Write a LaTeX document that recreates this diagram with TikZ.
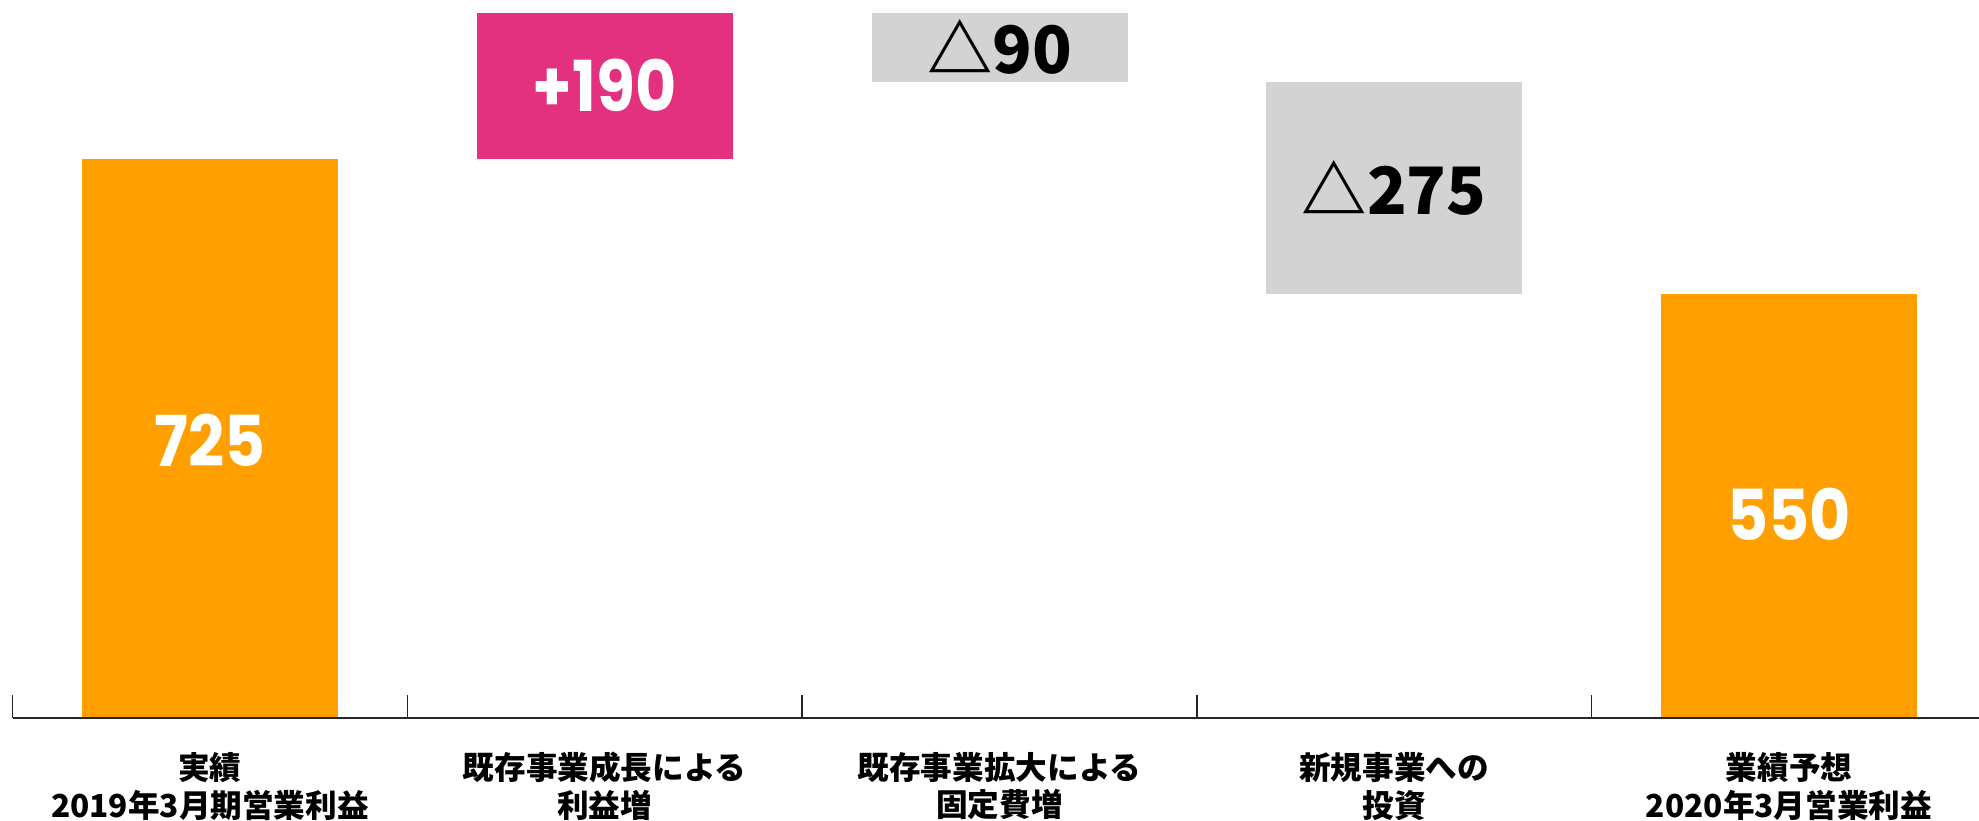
\documentclass[tikz,border=0pt]{standalone}
\usepackage{fontspec}
\usepackage{tikz}
\usetikzlibrary{positioning}
\newfontfamily\numfont[FakeStretch=0.9]{Poppins}
\newfontfamily\cjk{Noto Sans CJK JP}
\definecolor{barorange}{RGB}{255,159,0}
\definecolor{uppink}{RGB}{227,48,127}
\definecolor{downgray}{RGB}{211,211,211}
\tikzset{
	valuewhite/.style={text=white, font=\numfont\bfseries\fontsize{20}{24}\selectfont},
	valueblack/.style={text=black, font=\cjk\bfseries\fontsize{18.6}{22}\selectfont},
	catlabel/.style={align=center, font=\cjk\bfseries\fontsize{9}{10.8}\selectfont},
	axisline/.style={draw=black!85, line width=0.75pt},
	tickline/.style={draw=black!85, line width=0.45pt}
}
\newcommand{\orangecol}[4]{\fill[barorange] (-1.28,0) rectangle (1.28,#2);
					\node[valuewhite] (#1) at (0,#2/2+#4) {#3};}
\newcommand{\changebox}[5]{\fill[#4] (-1.28,#2) rectangle (1.28,#3);
					\node[#5] (#1) at (0,{(#2+#3)/2})}

\begin{document}
\begin{tikzpicture}[y=0.0771mm]
				
					\useasboundingbox (0,-132.3) rectangle (19.79,931.3);
					
					\begin{scope}[xshift=2.10cm]
						\orangecol{v725}{725}{725}{-2}
						\node[catlabel] (lab1) at (0,-88.2) {実績\\2019年3月期営業利益};
					\end{scope}
					
					\begin{scope}[xshift=6.047cm]
						\changebox{v190}{725}{915}{uppink}{valuewhite} {+190};
						\node[catlabel] (lab2) at (0,-88.2) {既存事業成長による\\利益増};
					\end{scope}
					
					\begin{scope}[xshift=9.995cm]
						\changebox{v90}{825}{915}{downgray}{valueblack} {△90};
						\node[catlabel] (lab3) at (0,-88.2) {既存事業拡大による\\固定費増};
					\end{scope}
					
					\begin{scope}[xshift=13.942cm]
						\changebox{v275}{550}{825}{downgray}{valueblack} {△275};
						\node[catlabel] (lab4) at (0,-88.2) {新規事業への\\投資};
					\end{scope}
					
					\begin{scope}[xshift=17.89cm]
						\orangecol{v550}{550}{550}{-11}
						\node[catlabel] (lab5) at (0,-88.2) {業績予想\\2020年3月営業利益};
					\end{scope}
					
					% axis and ticks
					\draw[axisline] (0.126,0) -- (19.79,0);
					\draw[tickline] (0.126,0) -- (0.126,29.8);
					\draw[tickline] (4.074,0) -- (4.074,29.8);
					\draw[tickline] (8.021,0) -- (8.021,29.8);
					\draw[tickline] (11.968,0) -- (11.968,29.8);
					\draw[tickline] (15.916,0) -- (15.916,29.8);
								
				\end{tikzpicture}
\end{document}
